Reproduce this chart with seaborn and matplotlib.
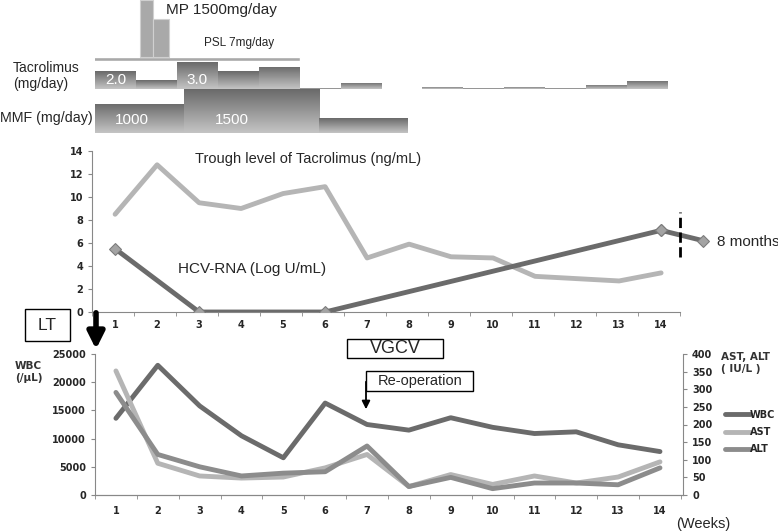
import numpy as np
import pandas as pd
import matplotlib
matplotlib.use('Agg')
import matplotlib.pyplot as plt
from matplotlib.colors import LinearSegmentedColormap
from matplotlib.lines import Line2D
from matplotlib.patches import Rectangle
import seaborn as sns

# ---------------- data ---------------- #
weeks = list(range(1, 15))

# drugs (x in weeks)
mp_start = [1.6, 1.92]
mp_end = [1.92, 2.31]
mp_dose = [1500, 1000]
psl_start, psl_end = 0.45, 5.5
tac_dose = [2.0, 1.0, 3.0, 2.0, 2.5, 0.1, 0.7, 0.0, 0.25, 0.1, 0.25, 0.1, 0.45, 0.9]
mmf_start = [0.5, 2.68, 5.98]
mmf_end = [2.68, 5.98, 8.15]
mmf_dose = [1000, 1500, 500]

# trough level / HCV-RNA
trough = [8.5, 12.8, 9.5, 9.0, 10.3, 10.9, 4.7, 5.9, 4.8, 4.7, 3.1, 2.9, 2.7, 3.4]
hcv_weeks = [1, 3, 6, 14]
hcv = [5.5, 0, 0, 7.1]
hcv_8m = 6.2

# labs
wbc = [13600, 23000, 15800, 10500, 6600, 16300, 12500, 11500, 13700, 12000, 10900, 11200, 8900, 7700]
ast = [352, 90, 54, 48, 51, 77, 115, 24, 58, 30, 54, 34, 51, 94]
alt = [291, 115, 80, 54, 62, 66, 139, 24, 50, 18, 34, 34, 29, 77]

labs = pd.DataFrame({'week': weeks, 'WBC': wbc, 'AST': ast, 'ALT': alt})

# ---------------- style ---------------- #
sns.set_style('white')
plt.rcParams['font.family'] = ['Liberation Sans', 'DejaVu Sans']

W, H = 778, 532
DARK = '#6b6b6b'
LIGHT = '#b5b5b5'
MID = '#8c8c8c'
grad_cmap = LinearSegmentedColormap.from_list('g', ['#c4c4c4', '#6a6a6a'])

fig = plt.figure(figsize=(W / 100, H / 100), dpi=100)


def px_axes(x0, y0, x1, y1):
    return fig.add_axes([x0 / W, 1 - y1 / H, (x1 - x0) / W, (y1 - y0) / H])


def fx(x):
    return x / W


def fy(y):
    return 1 - y / H


def box(x0, y0, x1, y1, lw=1.0):
    fig.add_artist(Rectangle((fx(x0), fy(y1)), (x1 - x0) / W, (y1 - y0) / H,
                             transform=fig.transFigure, fc='white', ec='black', lw=lw, zorder=6))


def gradient_bars(ax, bars):
    grad = np.linspace(0, 1, 64).reshape(-1, 1)
    for b in bars:
        if b.get_height() <= 0:
            continue
        x0, y0 = b.get_x(), b.get_y()
        im = ax.imshow(grad, extent=[x0, x0 + b.get_width(), y0 + b.get_height(), y0],
                       origin='upper', aspect='auto', cmap=grad_cmap, zorder=2)
        im.set_clip_path(b)
        b.set_facecolor('none')


def bold_ticks(ax):
    for lab in ax.get_xticklabels() + ax.get_yticklabels():
        lab.set_fontweight('bold')
        lab.set_family('DejaVu Sans')


# ---------------- drug panel ---------------- #
mp_scale = 1500 / 57.0
ax_mp = px_axes(95, 0, 668, 61)
psl_band = 4 * mp_scale
ax_mp.bar(psl_start, psl_band, width=psl_end - psl_start, align='edge', color='#a9a9a9')
ax_mp.bar(mp_start, mp_dose, width=np.subtract(mp_end, mp_start), bottom=psl_band,
          align='edge', color='#a9a9a9', edgecolor='#d0d0d0', linewidth=0.8)
ax_mp.set_xlim(0.5, 14.5)
ax_mp.set_ylim(0, 61 * mp_scale)
ax_mp.axis('off')

ax_tac = px_axes(95, 61, 668, 89)
tac_bars = ax_tac.bar(weeks, tac_dose, width=1.0, color='#999999')
gradient_bars(ax_tac, tac_bars)
ax_tac.set_xlim(0.5, 14.5)
ax_tac.set_ylim(0, 28 / 9.0)
ax_tac.axis('off')
ax_tac.text(1, 1.0, '2.0', color='white', ha='center', va='center', fontsize=11, zorder=5)
ax_tac.text(3, 1.0, '3.0', color='white', ha='center', va='center', fontsize=11, zorder=5)

ax_mmf = px_axes(95, 89, 668, 133)
mmf_bars = ax_mmf.bar(mmf_start, mmf_dose, width=np.subtract(mmf_end, mmf_start),
                      align='edge', color='#999999')
gradient_bars(ax_mmf, mmf_bars)
ax_mmf.set_xlim(0.5, 14.5)
ax_mmf.set_ylim(0, 1500)
ax_mmf.axis('off')
ax_mmf.text(1.4, 450, '1000', color='white', ha='center', va='center', fontsize=11, zorder=5)
ax_mmf.text(3.85, 450, '1500', color='white', ha='center', va='center', fontsize=11, zorder=5)

fig.text(fx(166), fy(10), 'MP 1500mg/day', fontsize=11, va='center')
fig.text(fx(204), fy(43), 'PSL 7mg/day', fontsize=8.5, va='center')
fig.text(fx(13), fy(76), 'Tacrolimus\n(mg/day)', fontsize=10, va='center', linespacing=1.25)
fig.text(fx(0), fy(118), 'MMF (mg/day)', fontsize=10.3, va='center')

# ---------------- trough / HCV panel ---------------- #
ax_mid = px_axes(92, 151, 680, 312)
sns.lineplot(x=weeks, y=trough, ax=ax_mid, color=LIGHT, linewidth=3.5)
sns.lineplot(x=hcv_weeks, y=hcv, ax=ax_mid, color=DARK, linewidth=3.5, marker='D',
             markersize=6, markerfacecolor='#a3a3a3', markeredgecolor='#7a7a7a', zorder=4)
sns.lineplot(x=[14, 15], y=[hcv[-1], hcv_8m], ax=ax_mid, color=DARK, linewidth=3.5,
             marker='D', markersize=6, markerfacecolor='#a3a3a3', markeredgecolor='#7a7a7a',
             clip_on=False, zorder=4)
ax_mid.plot([14.45, 14.45], [4.8, 8.7], color='black', linestyle='--', linewidth=2,
            clip_on=False, zorder=5)
ax_mid.set_xlim(0.45, 14.45)
ax_mid.set_ylim(0, 14)
ax_mid.set_yticks(range(0, 15, 2))
ax_mid.set_xticks(weeks)
ax_mid.set_xticks(np.arange(0.45, 14.5, 1.0), minor=True)
ax_mid.tick_params(axis='x', which='major', length=0, labelsize=7, pad=6)
ax_mid.tick_params(axis='x', which='minor', length=3, color='#888888', direction='out', bottom=True)
ax_mid.tick_params(axis='y', length=3, color='#888888', labelsize=7, direction='out', left=True)
for s in ['top', 'right']:
    ax_mid.spines[s].set_visible(False)
for s in ['left', 'bottom']:
    ax_mid.spines[s].set_color('#888888')
bold_ticks(ax_mid)
ax_mid.text(2.9, 13.3, 'Trough level of Tacrolimus (ng/mL)', fontsize=10.5, va='center')
ax_mid.text(2.5, 3.7, 'HCV-RNA (Log U/mL)', fontsize=11, va='center')
fig.text(fx(717), fy(242), '8 months', fontsize=11, va='center')

# ---------------- labs panel ---------------- #
ax_lab = px_axes(95, 354, 683, 495)
sns.lineplot(data=labs, x='week', y='WBC', ax=ax_lab, color=DARK, linewidth=3.5, zorder=3)
ax_r = ax_lab.twinx()
sns.lineplot(data=labs, x='week', y='AST', ax=ax_r, color=LIGHT, linewidth=3.5)
sns.lineplot(data=labs, x='week', y='ALT', ax=ax_r, color=MID, linewidth=3.5)
ax_lab.set_xlim(0.5, 14.55)
ax_lab.set_ylim(0, 25000)
ax_r.set_ylim(0, 400)
ax_lab.set_yticks(range(0, 25001, 5000))
ax_r.set_yticks(range(0, 401, 50))
ax_lab.set_xticks(weeks)
ax_lab.set_xticks(np.arange(0.5, 14.6, 1.0), minor=True)
ax_lab.tick_params(axis='x', which='major', length=0, labelsize=7, pad=8)
ax_lab.tick_params(axis='x', which='minor', length=3, color='#888888', direction='out', bottom=True)
ax_lab.tick_params(axis='y', length=3, color='#888888', labelsize=7, direction='out', left=True)
ax_r.tick_params(axis='y', length=3, color='#888888', labelsize=7, direction='out', right=True)
for a in [ax_lab, ax_r]:
    a.set_xlabel('')
    a.set_ylabel('')
    a.spines['top'].set_visible(False)
    for s in ['left', 'bottom', 'right']:
        a.spines[s].set_color('#888888')
ax_lab.spines['right'].set_visible(False)
ax_r.spines['left'].set_visible(False)
bold_ticks(ax_lab)
bold_ticks(ax_r)

handles = [Line2D([], [], color=DARK, lw=3.5), Line2D([], [], color=LIGHT, lw=3.5),
           Line2D([], [], color=MID, lw=3.5)]
leg = fig.legend(handles, ['WBC', 'AST', 'ALT'], loc='center left',
                 bbox_to_anchor=(fx(716), fy(432)), frameon=False, handlelength=2.6,
                 handletextpad=0.0, labelspacing=0.75,
                 prop={'size': 7, 'weight': 'bold', 'family': 'DejaVu Sans'})

fig.text(fx(15), fy(372), 'WBC\n(/µL)', fontsize=7.5, va='center', fontweight='bold',
         color='#333333', family='DejaVu Sans')
fig.text(fx(721), fy(363), 'AST, ALT\n( IU/L )', fontsize=7.5, va='center', fontweight='bold',
         color='#333333', family='DejaVu Sans')
fig.text(fx(676), fy(524), '(Weeks)', fontsize=10.5, va='center')

# ---------------- annotations ---------------- #
box(25, 309, 70, 341)
fig.text(fx(47.5), fy(325), 'LT', fontsize=12.5, ha='center', va='center', zorder=7)
box(347, 339, 443, 358)
fig.text(fx(395), fy(348.5), 'VGCV', fontsize=13, ha='center', va='center', zorder=7)
box(366, 371, 473, 391)
fig.text(fx(420), fy(381), 'Re-operation', fontsize=10.5, ha='center', va='center', zorder=7)
ax_lab.annotate('', xy=(fx(96), fy(352)), xytext=(fx(96), fy(310)), xycoords='figure fraction',
                textcoords='figure fraction',
                arrowprops=dict(arrowstyle='-|>', lw=4, color='black', mutation_scale=25))
ax_lab.annotate('', xy=(fx(366), fy(412)), xytext=(fx(366), fy(379)), xycoords='figure fraction',
                textcoords='figure fraction',
                arrowprops=dict(arrowstyle='-|>', lw=1.3, color='black', mutation_scale=12))

fig.savefig('out.png', dpi=100)
